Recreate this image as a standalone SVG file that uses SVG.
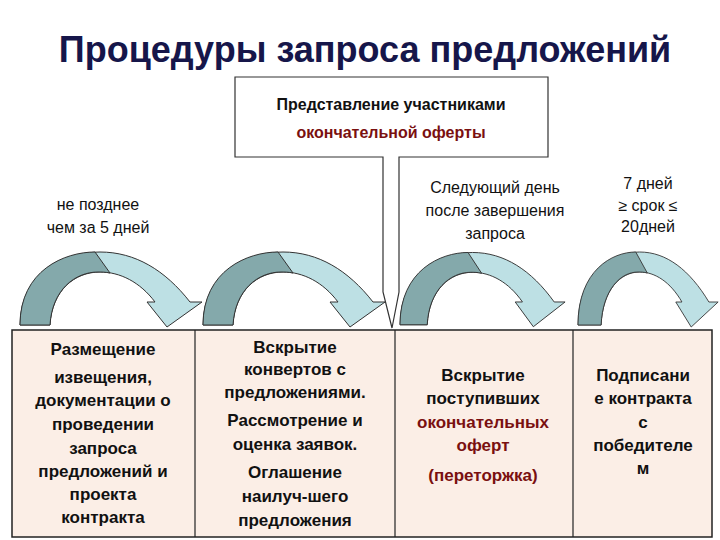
<svg xmlns="http://www.w3.org/2000/svg" width="720" height="540" viewBox="0 0 720 540">
<defs>
<style>
text{font-family:"Liberation Sans",Arial,sans-serif;text-anchor:middle}
.t{font-size:36px;font-weight:bold;fill:#16164a}
.b{font-size:16px;font-weight:bold;fill:#111}
.n{font-size:16px;fill:#111}
.c{font-size:17px;font-weight:bold;fill:#111}
.r{fill:#7a1010}
.light{fill:#bde0e4;stroke:#333;stroke-width:1}
.dark{fill:#84a9ab;stroke:#333;stroke-width:1}
</style>
<g id="arw">
<path class="light" d="M0,325 C0,270 50,252 80,252 C115,252 145,270 170,302 L182,302 L147,327 L127,302 L135,302 C120,282 100,272 80,272 C55,272 32,290 30,325 Z"/>
<path class="dark" d="M0,325 C0,270 45,252 75,252 L90,273 C85,272 82,272 78,272 C55,272 32,290 30,325 Z"/>
</g>
</defs>
<rect width="720" height="540" fill="#fff"/>
<text class="t" x="365" y="62">Процедуры запроса предложений</text>
<g id="connectors">
<use href="#arw" transform="translate(20,0)"/>
<use href="#arw" transform="translate(203,0)"/>
<use href="#arw" transform="translate(400,3) scale(0.907,0.99)"/>
<use href="#arw" transform="translate(578,0) scale(0.77,1)"/>
</g>
<g id="callout">
<path d="M235,77 H548 V157 H399 V292 L392,328 L383,292 V157 H235 Z" fill="#fff" stroke="#333" stroke-width="1.2"/>
<text class="b" x="391" y="110">Представление участниками</text>
<text class="b r" x="391" y="138">окончательной оферты</text>
</g>
<g id="lbl1"><text class="n" x="98" y="210">не позднее</text><text class="n" x="98" y="233">чем за 5 дней</text></g>
<g id="lbl2"><text class="n" x="495" y="193">Следующий день</text><text class="n" x="495" y="216">после завершения</text><text class="n" x="495" y="239">запроса</text></g>
<g id="lbl3"><text class="n" x="648" y="189">7 дней</text><text class="n" x="648" y="211">≥ срок ≤</text><text class="n" x="648" y="232">20дней</text></g>
<g id="table">
<rect x="12" y="330" width="700" height="207" fill="#fbeee6" stroke="#222" stroke-width="1.5"/>
<line x1="195" y1="330" x2="195" y2="537" stroke="#222" stroke-width="1.2"/>
<line x1="395" y1="330" x2="395" y2="537" stroke="#222" stroke-width="1.2"/>
<line x1="573" y1="330" x2="573" y2="537" stroke="#222" stroke-width="1.2"/>
</g>
<g id="col1">
<text class="c" x="103" y="355">Размещение</text><text class="c" x="103" y="383">извещения,</text><text class="c" x="103" y="406">документации о</text><text class="c" x="103" y="430">проведении</text><text class="c" x="103" y="454">запроса</text><text class="c" x="103" y="477">предложений и</text><text class="c" x="103" y="500">проекта</text><text class="c" x="103" y="523">контракта</text>
</g>
<g id="col2">
<text class="c" x="295" y="353">Вскрытие</text><text class="c" x="295" y="375">конвертов с</text><text class="c" x="295" y="398">предложениями.</text><text class="c" x="295" y="426">Рассмотрение и</text><text class="c" x="295" y="450">оценка заявок.</text><text class="c" x="295" y="478">Оглашение</text><text class="c" x="295" y="502">наилуч-шего</text><text class="c" x="295" y="526">предложения</text>
</g>
<g id="col3">
<text class="c" x="483" y="381">Вскрытие</text><text class="c" x="483" y="404">поступивших</text><text class="c r" x="483" y="428">окончательных</text><text class="c r" x="483" y="451">оферт</text><text class="c r" x="483" y="481">(переторжка)</text>
</g>
<g id="col4">
<text class="c" x="643" y="381">Подписани</text><text class="c" x="643" y="404">е контракта</text><text class="c" x="643" y="428">с</text><text class="c" x="643" y="451">победителе</text><text class="c" x="643" y="474">м</text>
</g>
</svg>
